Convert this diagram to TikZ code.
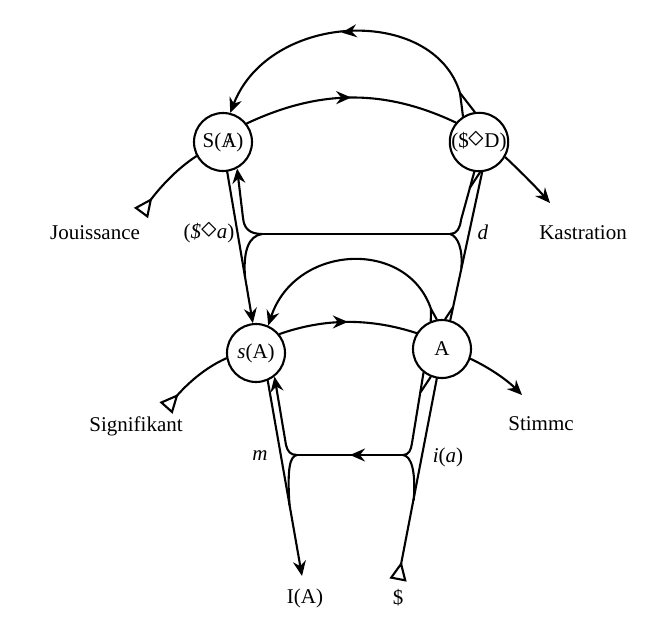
\documentclass[tikz,border=0pt]{standalone}
\usepackage{fontspec}
\setmainfont{Liberation Serif}
\usetikzlibrary{arrows.meta,calc,decorations.markings}
\newcommand{\barA}{\ooalign{A\cr\hidewidth/\hidewidth\cr}}
\newcommand{\dmd}{\raisebox{0.05ex}{\scalebox{1.5}{$\diamond$}}}
\begin{document}
\begin{tikzpicture}[x=1pt,y=-1pt,
  line width=2.1pt, line cap=round,
  every node/.style={font=\fontsize{21}{25}\selectfont},
  circ/.style={draw,circle,minimum size=58pt,inner sep=0pt},
  lbl/.style={inner sep=0pt},
  arr/.style={-{Stealth[length=15pt,width=13pt,inset=5pt]}},
  tri/.style={{Triangle[open,reversed,length=19pt,width=17pt]}-},
  midarrow/.style={postaction={decorate},decoration={markings,mark=at position #1 with {\arrow{Stealth[length=15pt,width=13pt,inset=5pt]}}}}
]
\useasboundingbox (0,0) rectangle (650,642);

% circles
\node[circ] (SA) at (223,142) {S(\barA)};
\node[circ] (SD) at (479,142) {(\$\dmd D)};
\node[circ] (sA) at (256,353) {\textit{s}(A)};
\node[circ] (A)  at (442,349) {A};

% labels
\node[lbl] (jou) at (95,233) {Jouissance};
\node[lbl] (sda) at (209,233) {(\textit{\$}\dmd\textit{a})};
\node[lbl] (dl)  at (483,232) {\textit{d}};
\node[lbl] (kas) at (583,233) {Kastration};
\node[lbl] (sig) at (136,426) {Signifikant};
\node[lbl] (sti) at (541,424) {Stimmc};
\node[lbl] (ml)  at (260,456) {\textit{m}};
\node[lbl] (ia)  at (448,457) {\textit{i}(\textit{a})};
\node[lbl] (IA)  at (305,598) {I(A)};
\node[lbl] (S)   at (398,598) {\$};

% free ends and fork points
\coordinate (JT) at (141,213);
\coordinate (SGT) at (166,408);
\coordinate (KT) at (550,203);
\coordinate (STT) at (522,395);
\coordinate (DT) at (398,580);
\coordinate (IT) at (302,576);
\coordinate (F1) at (460,93);
\coordinate (F2) at (431,309);
\coordinate (F3) at (420.7,392);
\coordinate (F4) at (469.7,188);
\coordinate (UL) at (262,234);
\coordinate (UR) at (450,234);
\coordinate (LL) at (297,455);
\coordinate (LR) at (403,455);

% upper chain
\draw[tri] (JT) .. controls (158,190) and (175,170) .. (SA.208);
\draw[midarrow=0.5] (SA.38) .. controls (320,89) and (385,89) .. (SD.140);
\draw[arr] (SD.-30) .. controls (520,171) and (535,186) .. (KT);

% big upper arc
\draw (SD.122) -- (F1);
\draw (F1) -- (SD.98);
\draw[arr,midarrow=0.5] (F1) .. controls (433.6,5) and (269.4,11.3) .. (SA.76);

% lower chain
\draw[tri] (SGT) .. controls (182,390) and (200,370) .. (sA.190);
\draw[midarrow=0.5] (sA.39) .. controls (325,318) and (370,318) .. (A.148);
\draw[arr] (A.-19) .. controls (486,366) and (505,378) .. (STT);

% lower arc A -> s(A)
\draw (A.112) -- (F2);
\draw (F2) -- (A.100);
\draw[arr] (F2) .. controls (407,238) and (295,244) .. (sA.66);

% vertical vectors
\draw (A.74) -- (SD.-84);
\draw ($(A.74)!0.087!(SD.-84)$) -- (A.84);
\draw[arr] (SA.-82) -- (sA.96);
\draw[tri] (DT) -- (A.-100);
\draw[arr] (sA.-67) -- (IT);

% upper bar
\draw (UL) -- (UR);
\draw[arr] (UL) .. controls (249,234) and (244,228) .. (243,218) -- (SA.-62);
\draw (UL) .. controls (249,236) and (243,250) .. (245,277);
\draw (UR) .. controls (457,234) and (460,228) .. (461,220) -- (SD.-99);
\draw (UR) .. controls (458,236) and (463,250) .. (461.3,268);
\draw (F4) -- (SD.-88);

% lower bar
\draw[midarrow=0.5] (LR) -- (LL);
\draw[arr] (LL) .. controls (290,455) and (287.5,451) .. (286,445) -- (sA.-52);
\draw (LL) .. controls (290,456) and (287,468) .. (289.5,505);
\draw (LR) .. controls (409,455) and (411,450) .. (412,443) -- (A.-128);
\draw (LR) .. controls (411,456) and (416,470) .. (413.7,500);
\draw (F3) -- (A.-112);
\end{tikzpicture}
\end{document}
